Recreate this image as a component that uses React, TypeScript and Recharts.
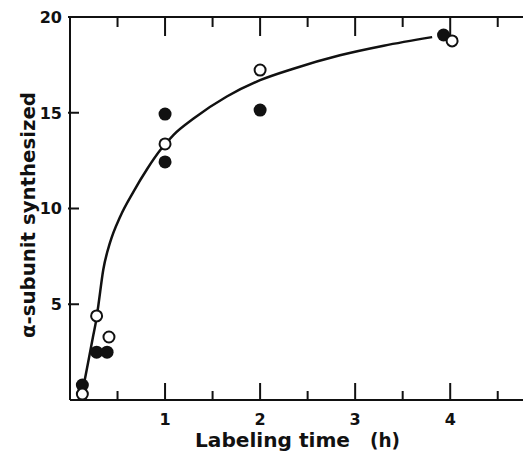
import React from 'react'
import { ComposedChart, Line, Scatter, XAxis, YAxis } from 'recharts'

// labeling time (h) vs alpha-subunit synthesized, two experiments
const filledTime = [0.13, 0.28, 0.39, 1.0, 1.0, 2.0, 3.93]
const filledAmount = [0.78, 2.5, 2.5, 14.93, 12.43, 15.14, 19.06]

const openTime = [0.13, 0.28, 0.41, 1.0, 2.0, 4.02]
const openAmount = [0.31, 4.39, 3.29, 13.37, 17.23, 18.75]

// hand-drawn fit curve
const curveTime = [0.13, 0.19, 0.24, 0.28, 0.3, 0.35, 0.42, 0.53, 0.67, 0.81, 0.95, 1.09, 1.3, 1.65, 2.0, 2.35, 2.84, 3.3, 3.81]
const curveAmount = [0.4, 1.95, 3.25, 4.3, 5.0, 6.8, 8.2, 9.6, 10.9, 12.05, 13.05, 13.85, 14.7, 15.85, 16.7, 17.3, 18.0, 18.5, 18.95]

const xTicks = [0.5, 1, 1.5, 2, 2.5, 3, 3.5, 4, 4.5]
const yTicks = [5, 10, 15, 20]

const toPoints = (xs: number[], ys: number[]) => xs.map((x, i) => ({ x, y: ys[i] }))

const filled = toPoints(filledTime, filledAmount)
const open = toPoints(openTime, openAmount)
const curve = toPoints(curveTime, curveAmount)

const FONT = "'DejaVu Sans', sans-serif"
const INK = '#111'

function BottomTick(props: any) {
  const { x, y, payload } = props
  const major = Number.isInteger(payload.value)
  return (
    <g>
      <line x1={x} y1={y} x2={x} y2={y - (major ? 17 : 9)} stroke={INK} strokeWidth={2} />
      {major && (
        <text x={x} y={y + 25} textAnchor="middle" fontFamily={FONT} fontWeight="bold" fontSize={16} fill={INK}>
          {payload.value}
        </text>
      )}
    </g>
  )
}

function TopTick(props: any) {
  const { x, y, payload } = props
  const major = Number.isInteger(payload.value)
  return <line x1={x} y1={y} x2={x} y2={y + (major ? 19 : 10)} stroke={INK} strokeWidth={2} />
}

function LeftTick(props: any) {
  const { x, y, payload } = props
  return (
    <g>
      <line x1={x - 2} y1={y} x2={x + 9} y2={y} stroke={INK} strokeWidth={2} />
      <text x={x - 8} y={y} dy="0.36em" textAnchor="end" fontFamily={FONT} fontWeight="bold" fontSize={16} fill={INK}>
        {payload.value}
      </text>
    </g>
  )
}

const FilledDot = (props: any) => <circle cx={props.cx} cy={props.cy} r={6.5} fill={INK} />
const OpenDot = (props: any) => (
  <circle cx={props.cx} cy={props.cy} r={5.5} fill="#fff" stroke={INK} strokeWidth={2} />
)

export default function App(): React.ReactElement {
  return (
    <ComposedChart width={523} height={445} margin={{ top: 0, right: 0, bottom: 0, left: 0 }}>
      <XAxis
        xAxisId="bottom"
        type="number"
        dataKey="x"
        domain={[0, 4.85]}
        ticks={xTicks}
        allowDataOverflow
        height={53}
        tickSize={0}
        tickMargin={0}
        tickLine={false}
        tick={<BottomTick />}
        axisLine={{ stroke: INK, strokeWidth: 2 }}
        label={{
          content: () => (
            <g fontFamily={FONT} fontWeight="bold" fontSize={20} fill={INK}>
              <text x={187} y={439} textLength={155} lengthAdjust="spacingAndGlyphs">Labeling time</text>
              <text x={362} y={439} textLength={30} lengthAdjust="spacingAndGlyphs">(h)</text>
            </g>
          ),
        }}
      />
      <XAxis
        xAxisId="top"
        orientation="top"
        type="number"
        dataKey="x"
        domain={[0, 4.85]}
        ticks={xTicks}
        allowDataOverflow
        height={9}
        tickSize={0}
        tickMargin={0}
        tickLine={false}
        tick={<TopTick />}
        axisLine={{ stroke: INK, strokeWidth: 2 }}
      />
      <YAxis
        type="number"
        domain={[0, 20]}
        ticks={yTicks}
        width={62}
        tickSize={0}
        tickMargin={0}
        tickLine={false}
        tick={<LeftTick />}
        axisLine={{ stroke: INK, strokeWidth: 2 }}
        label={{
          content: () => (
            <text
              transform="translate(27,207) rotate(-90)"
              textAnchor="middle"
              fontFamily={FONT}
              fontWeight="bold"
              fontSize={20}
              fill={INK}
              textLength={246}
              lengthAdjust="spacingAndGlyphs"
            >
              α-subunit  synthesized
            </text>
          ),
        }}
      />
      <Line
        xAxisId="bottom"
        data={curve}
        dataKey="y"
        type="monotone"
        stroke={INK}
        strokeWidth={2.5}
        dot={false}
        activeDot={false}
        isAnimationActive={false}
      />
      <Scatter xAxisId="bottom" data={filled} dataKey="y" shape={<FilledDot />} isAnimationActive={false} />
      <Scatter xAxisId="bottom" data={open} dataKey="y" shape={<OpenDot />} isAnimationActive={false} />
    </ComposedChart>
  )
}
